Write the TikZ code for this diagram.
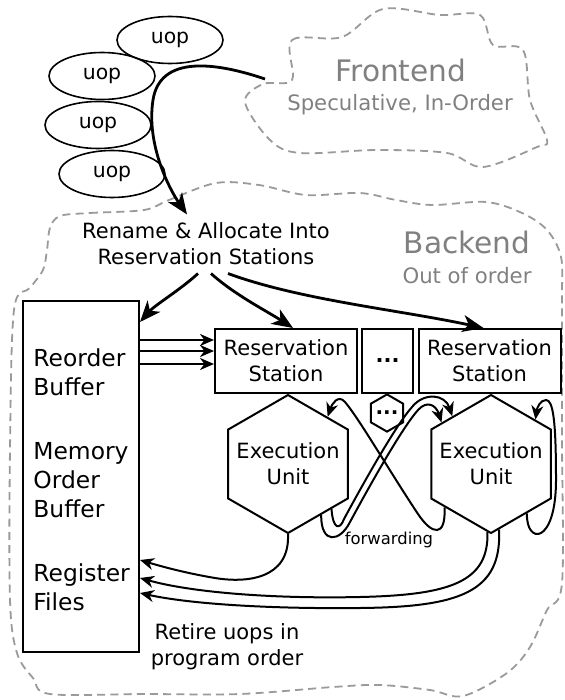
\documentclass[tikz,border=0pt]{standalone}
\usepackage{fontspec}
\setmainfont{DejaVu Sans}
\usetikzlibrary{arrows.meta,shapes.geometric}
\definecolor{cloudgray}{HTML}{9A9A9A}
\definecolor{labelgray}{HTML}{808080}
\begin{document}
\begin{tikzpicture}[x=0.5pt,y=-0.5pt,
	uop/.style={draw,ellipse,line width=0.8pt,minimum width=53pt,minimum height=23.5pt,inner sep=0pt,font=\fontsize{10.2}{12}\selectfont},
	lbl/.style={align=center,inner sep=0pt,font=\fontsize{10.5}{13}\selectfont},
	roblbl/.style={align=left,anchor=west,inner sep=0pt,font=\fontsize{11.7}{14.6}\selectfont},
	rsbox/.style={draw,line width=1pt,minimum width=71pt,minimum height=32pt,inner sep=0pt,align=center,font=\fontsize{10.5}{13}\selectfont},
	hexa/.style={draw,line width=1pt,regular polygon,regular polygon sides=6,shape border rotate=30,minimum size=69pt,inner sep=0pt},
	cloud/.style={draw=cloudgray,line width=0.9pt,dash pattern=on 4pt off 2.6pt},
	head/.style={text=labelgray,inner sep=0pt,font=\fontsize{14.8}{18}\selectfont},
	sub/.style={text=labelgray,inner sep=0pt,font=\fontsize{10.6}{13}\selectfont},
	bigarr/.style={line width=1.4pt,-{Stealth[length=10.5pt,width=8.5pt,inset=3pt]}},
	arr/.style={line width=1pt,-{Stealth[length=7pt,width=6pt,inset=2.2pt]}}]
	\useasboundingbox (0,0) rectangle (564,700);

	\draw[cloud] plot[smooth cycle,tension=0.55] coordinates {(292,80) (292,40) (342,37) (383,9) (440,15) (480,15) (493,45) (523,50) (530,100) (547,140) (537,147) (483,167) (447,153) (377,150) (300,153) (270,140) (245,102) (263,84)};
	\node[head] (fetitle) at (401,70) {Frontend};
	\node[sub] (fesub) at (400,105) {Speculative, In-Order};

	\draw[cloud] plot[smooth cycle,tension=0.55] coordinates {(60,216) (90,213) (144,210) (169,200) (216,183) (259,185) (306,195) (360,193) (396,200) (432,205) (486,202) (522,213) (547,230) (561,257) (562,300) (562,440) (562,583) (547,610) (530,647) (507,673) (463,696) (430,690) (380,685) (333,687) (240,694) (144,694) (50,694) (33,678) (17,653) (10,600) (10,450) (14,310) (30,288) (43,270) (47,250) (50,228)};
	\node[head] (betitle) at (467,242) {Backend};
	\node[sub] (besub) at (467,276) {Out of order};

	\node[uop] (uop1) at (170,40) {uop};
	\node[uop] (uop2) at (102,76) {uop};
	\node[uop] (uop3) at (98,125) {uop};
	\node[uop] (uop4) at (112,174) {uop};
	\coordinate (fe) at (265,79);

	\node[lbl,inner sep=4pt] (ren) at (206,244) {Rename \& Allocate Into\\Reservation Stations};

	\node[draw,line width=1pt,minimum width=58pt,minimum height=175.5pt,inner sep=0pt] (rob) at (81,476.5) {};
	\node[roblbl] (reo) at (33,372) {Reorder\\Buffer};
	\node[roblbl] (mob) at (33,480) {Memory\\Order\\Buffer};
	\node[roblbl] (regf) at (33,587) {Register\\Files};

	\node[rsbox] (rs1) at (286,361) {Reservation\\Station};
	\node[rsbox,minimum width=25.5pt] (rsdots) at (387.5,361) {\textbf{...}};
	\node[rsbox] (rs2) at (489.5,361) {Reservation\\Station};

	\node[hexa] (eu1) at (288,464) {};
	\node[lbl] (eu1txt) at (eu1) {Execution\\Unit};
	\node[hexa,minimum size=17.5pt,font=\fontsize{10}{12}\selectfont] (eudots) at (387,413) {\textbf{...}};
	\node[hexa] (eu2) at (491,464) {};
	\node[lbl] (eu2txt) at (eu2) {Execution\\Unit};

	\node[inner sep=0pt,font=\fontsize{8.2}{10}\selectfont] (fwd) at (389,540) {forwarding};
	\node[lbl] (retire) at (227,647) {Retire uops in\\program order};

	\draw[bigarr] (fe) .. controls (215,62) and (160,55) .. (153,100) .. controls (146,145) and (170,190) .. ([xshift=-9.5pt]ren.north);
	\draw[bigarr] ([xshift=-4pt]ren.south) .. controls (180,290) and (155,305) .. ([yshift=-11pt]rob.north east);
	\draw[bigarr] ([xshift=2.5pt]ren.south) .. controls (235,295) and (265,310) .. ([xshift=3.5pt]rs1.north);
	\draw[bigarr] ([xshift=11pt]ren.south) .. controls (300,300) and (400,310) .. ([xshift=-3pt]rs2.north);

	\foreach \dy in {10.5,5,-1.5}
		\draw[arr] ([yshift=\dy pt]rs1.west -| rob.east) -- ([yshift=\dy pt]rs1.west);

	\draw[arr] (eu2.-137) .. controls (446,538) and (432,535) .. (418,514) .. controls (390,472) and (360,420) .. (345,402) .. controls (338,394) and (332,404) .. (eu1.50);
	\draw[arr] (eu1.-57) .. controls (321,545) and (340,542) .. (350,522) .. controls (370,485) and (402,428) .. (418,410) .. controls (427,400) and (436,405) .. (eu2.140);
	\draw[arr] (eu1.-46) .. controls (333,530) and (340,530) .. (344,519) .. controls (364,482) and (396,425) .. (412,407) .. controls (424,392) and (445,394) .. (eu2.129);
	\draw[arr] (eu2.-54) .. controls (526,545) and (556,545) .. (556,480) .. controls (556,420) and (553,400) .. (546,400) .. controls (540,400) and (537,408) .. (eu2.45);

	\draw[arr] (eu1.south) .. controls (290,580) and (245,583) .. (215,578) .. controls (185,573) and (160,566) .. ([yshift=-41.75pt]rob.east);
	\draw[arr] (eu2.-93) .. controls (489,582) and (450,595) .. (360,597) .. controls (270,599) and (190,592) .. ([yshift=-50.75pt]rob.east);
	\draw[arr] (eu2.-83) .. controls (502,592) and (460,607) .. (360,608) .. controls (270,609) and (190,604) .. ([yshift=-58.25pt]rob.east);
\end{tikzpicture}
\end{document}
